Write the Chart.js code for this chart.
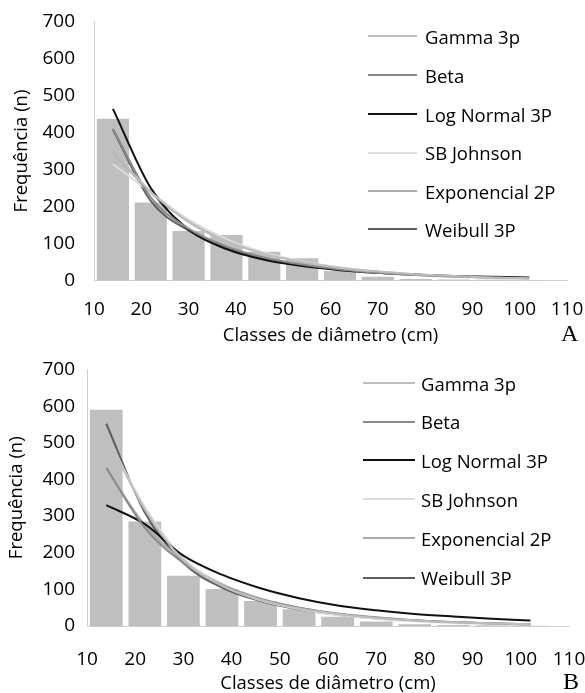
<!DOCTYPE html>
<html>
<head>
<meta charset="utf-8">
<script src="https://cdn.jsdelivr.net/npm/chart.js@4.4.0/dist/chart.umd.min.js"></script>
<style>
  body { margin: 0; background: #fff; }
  #page { position: relative; width: 585px; height: 693px; font-family: 'Open Sans', sans-serif; }
  .panel { position: absolute; left: 0; width: 585px; }
  .legend-row { position: absolute; display: flex; align-items: center; height: 24px; font-size: 18.5px; color: #000; white-space: nowrap; }
  .swatch { display: inline-block; height: 2px; }
  .tag { position: absolute; font-family: 'Liberation Serif', serif; font-size: 24px; line-height: 24px; color: #000; }
</style>
</head>
<body>
<div id="page">
  <div class="panel" style="top:0;height:345px"><canvas id="chartA" width="585" height="345"></canvas></div>
  <div class="panel" style="top:350px;height:343px"><canvas id="chartB" width="585" height="343"></canvas></div>
  <div id="legendA"></div>
  <div id="legendB"></div>
  <div class="tag" style="left:561px;top:321px">A</div>
  <div class="tag" style="left:563px;top:669px">B</div>
</div>
<script>
'use strict';

// class centres (cm) and tick labels
const classCenters = [14, 22, 30, 38, 46, 54, 62, 70, 78, 86, 94, 102];
const xTicks = [10, 20, 30, 40, 50, 60, 70, 80, 90, 100, 110];
const yTicks = [0, 100, 200, 300, 400, 500, 600, 700];

const seriesNames = ['Gamma 3p', 'Beta', 'Log Normal 3P', 'SB Johnson', 'Exponencial 2P', 'Weibull 3P'];
const seriesColors = ['#bdbdbd', '#8a8a8a', '#111111', '#dcdcdc', '#ababab', '#5e5e5e'];

// panel A
const barsA = [437, 211, 134, 123, 78, 60, 26, 10, 4, 3, 2, 1];
const gammaA = [350, 240, 158, 106, 72, 50, 34, 24, 17, 12, 8, 6];
const betaA = [410, 225, 140, 92, 62, 43, 30, 21, 15, 11, 8, 6];
const logNormalA = [464, 250, 138, 85, 56, 39, 28, 21, 16, 12, 10, 8];
const sbJohnsonA = [315, 238, 165, 112, 76, 52, 35, 23, 15, 10, 6, 3];
const exponencialA = [347, 237, 160, 108, 74, 51, 35, 24, 16, 11, 8, 5];
const weibullA = [408, 215, 135, 88, 59, 41, 29, 21, 15, 11, 8, 6];

// panel B
const barsB = [590, 285, 137, 101, 68, 46, 25, 12, 5, 3, 2, 1];
const gammaB = [520, 318, 180, 110, 72, 48, 33, 22, 15, 10, 7, 5];
const betaB = [432, 268, 172, 110, 73, 50, 34, 24, 16, 11, 7, 4];
const logNormalB = [330, 278, 192, 140, 103, 76, 56, 43, 33, 26, 20, 15];
const sbJohnsonB = [520, 325, 185, 110, 70, 46, 30, 20, 13, 8, 5, 3];
const exponencialB = [430, 275, 178, 114, 75, 50, 33, 22, 15, 10, 7, 5];
const weibullB = [552, 310, 172, 105, 68, 45, 31, 21, 15, 10, 7, 5];

Chart.defaults.font.family = "'Open Sans', sans-serif";
Chart.defaults.color = '#000';

function toPoints(values) {
    return classCenters.map((x, i) => ({ x: x, y: values[i] }));
}

function makeChart(canvasId, bars, curves, geom) {
    const datasets = [{
        type: 'bar',
        label: 'Frequência',
        data: toPoints(bars),
        backgroundColor: '#bfbfbf',
        barPercentage: 0.85,
        categoryPercentage: 1,
        order: 10
    }];
    curves.forEach((values, i) => {
        datasets.push({
            type: 'line',
            label: seriesNames[i],
            data: toPoints(values),
            borderColor: seriesColors[i],
            borderWidth: 2,
            pointRadius: 0,
            fill: false,
            cubicInterpolationMode: 'monotone',
            order: i
        });
    });

    return new Chart(document.getElementById(canvasId), {
        type: 'bar',
        data: { datasets: datasets },
        options: {
            responsive: false,
            animation: false,
            layout: { padding: { left: 0, right: 585 - geom.right, top: geom.top, bottom: 0 } },
            plugins: { legend: { display: false }, tooltip: { enabled: false } },
            scales: {
                x: {
                    type: 'linear',
                    min: 10,
                    max: 110,
                    offset: false,
                    grid: { display: false, drawTicks: false },
                    border: { color: '#d0d0d0', width: 1 },
                    afterBuildTicks: (s) => { s.ticks = xTicks.map(v => ({ value: v })); },
                    ticks: { font: { size: 19 }, padding: geom.xLabelY - geom.bottom - 11.4, maxRotation: 0, autoSkip: false },
                    title: { display: true, text: 'Classes de diâmetro (cm)', font: { size: 18.5, lineHeight: 1 }, padding: 0 },
                    afterFit: (s) => {
                        s.height = geom.height - geom.bottom;
                        s.paddingLeft = 0;
                        s.paddingRight = 0;
                    }
                },
                y: {
                    min: 0,
                    max: 700,
                    grid: { display: false, drawTicks: false },
                    border: { color: '#d0d0d0', width: 1 },
                    afterBuildTicks: (s) => { s.ticks = yTicks.map(v => ({ value: v })); },
                    ticks: { font: { size: 19 }, padding: geom.yLabelPad },
                    title: { display: true, text: 'Frequência (n)', font: { size: 18.5, lineHeight: 1 }, padding: { top: geom.yTitleX - 9.25, bottom: 0 } },
                    afterFit: (s) => {
                        s.width = geom.left;
                        s.paddingTop = 0;
                        s.paddingBottom = 0;
                    }
                }
            }
        }
    });
}

function renderLegend(containerId, rows, swatchLeft, swatchWidth, textLeft) {
    const container = document.getElementById(containerId);
    seriesNames.forEach((name, i) => {
        const rowEl = document.createElement('div');
        rowEl.className = 'legend-row';
        rowEl.style.left = swatchLeft + 'px';
        rowEl.style.top = (rows[i] - 12) + 'px';
        const swatchEl = document.createElement('span');
        swatchEl.className = 'swatch';
        swatchEl.style.width = swatchWidth + 'px';
        swatchEl.style.marginRight = (textLeft - swatchLeft - swatchWidth) + 'px';
        swatchEl.style.background = seriesColors[i];
        rowEl.appendChild(swatchEl);
        rowEl.appendChild(document.createTextNode(name));
        container.appendChild(rowEl);
    });
}

makeChart('chartA', barsA, [gammaA, betaA, logNormalA, sbJohnsonA, exponencialA, weibullA],
    { left: 94, right: 567, top: 21.5, bottom: 280.5, height: 345, yLabelPad: 19, yTitleX: 22, xLabelY: 310 });
makeChart('chartB', barsB, [gammaB, betaB, logNormalB, sbJohnsonB, exponencialB, weibullB],
    { left: 87, right: 569, top: 19.5, bottom: 276, height: 343, yLabelPad: 12, yTitleX: 17, xLabelY: 310 });

renderLegend('legendA', [36, 75, 114, 152.7, 191, 229.3], 368, 49, 425);
renderLegend('legendB', [383.3, 421.7, 460, 499.3, 538.3, 577.7], 363, 52, 421);
</script>
</body>
</html>
